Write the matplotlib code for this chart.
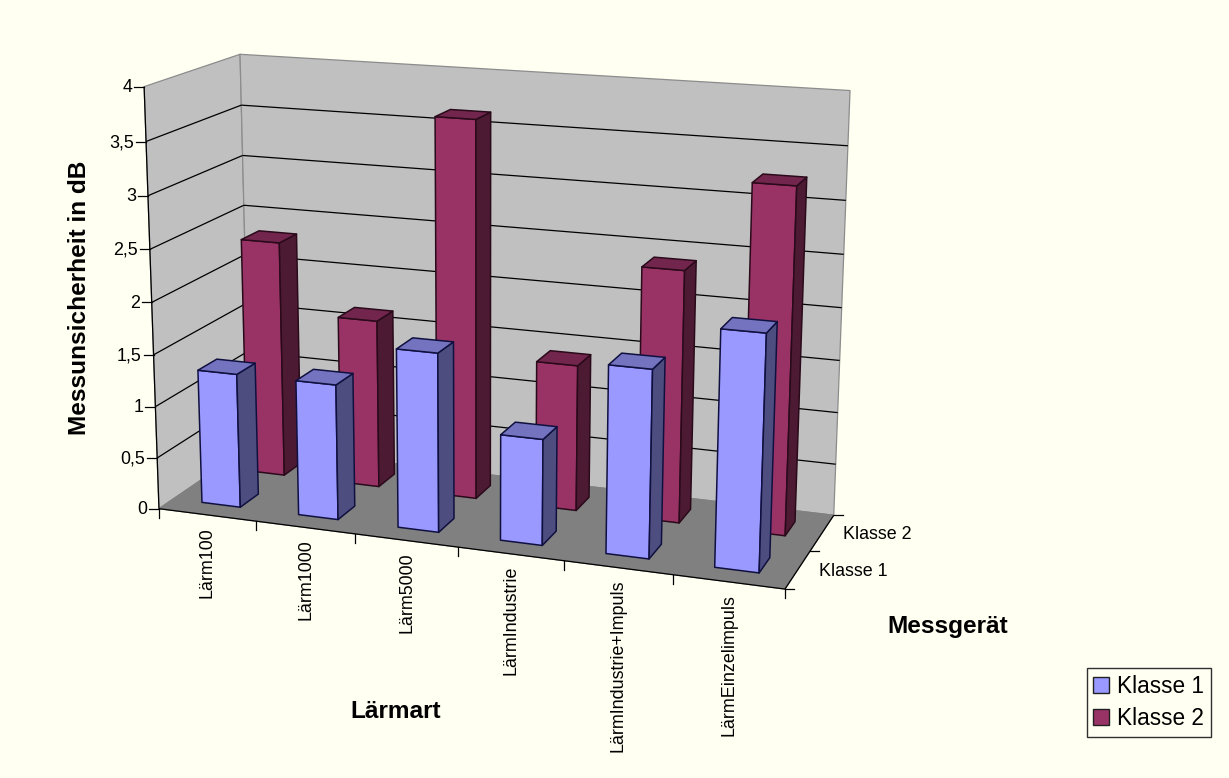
# -*- coding: utf-8 -*-
import numpy as np
import matplotlib
matplotlib.use("Agg")
import matplotlib.pyplot as plt
from matplotlib.patches import Polygon, Patch

categories = ["Lärm100", "Lärm1000", "Lärm5000", "LärmIndustrie", "LärmIndustrie+Impuls", "LärmEinzelimpuls"]
series_names = ["Klasse 1", "Klasse 2"]
klasse1 = [1.3, 1.3, 1.7, 1.0, 1.75, 2.17]
klasse2 = [2.33, 1.65, 3.65, 1.41, 2.4, 3.25]
z_ticks = [0, 0.5, 1, 1.5, 2, 2.5, 3, 3.5, 4]
z_labels = ["0", "0,5", "1", "1,5", "2", "2,5", "3", "3,5", "4"]

BG = "#FFFFF2"
WALL = "#C0C0C0"
FLOOR = "#808080"
COLORS = [("#9999FF", "#7373BF", "#4D4D80"), ("#993366", "#73264D", "#4D1A33")]
EDGES = ["#101040", "#2A0A1A"]
TICK_SIZE = 12.9
TITLE_SIZE = 17.6

plt.rcParams["font.family"] = ["Liberation Sans", "DejaVu Sans"]

# camera: (category, series depth, value) -> pixel, fitted on the box corners
anchors = [
    ((0, 0, 0), (160, 508)), ((0, 0, 4), (143, 87)), ((0, 0, 2), (152, 302)),
    ((0, 2, 4), (241, 54)), ((0, 2, 0), (249, 448)), ((0, 2, 2), (245, 254)),
    ((6, 2, 4), (850, 91)), ((6, 2, 0), (833, 514)), ((6, 0, 0), (785, 589)),
    ((1, 0, 0), (256, 521)), ((2, 0, 0), (355, 534)), ((3, 0, 0), (458, 547)),
    ((4, 0, 0), (563, 561)), ((5, 0, 0), (672, 575)), ((6, 1, 0), (812, 551)),
]


def fit_camera(pairs):
    rows = []
    for (x, y, z), (u, v) in pairs:
        rows.append([x, y, z, 1, 0, 0, 0, 0, -u * x, -u * y, -u * z, -u])
        rows.append([0, 0, 0, 0, x, y, z, 1, -v * x, -v * y, -v * z, -v])
    return np.linalg.svd(np.array(rows, dtype=float))[2][-1].reshape(3, 4)


P = fit_camera(anchors)


def proj(x, y, z):
    h = P @ np.array([x, y, z, 1.0])
    return h[0] / h[2], h[1] / h[2]


def face(ax, pts, color, edge=None, lw=0.9, zorder=3):
    ax.add_patch(Polygon([proj(*p) for p in pts], closed=True, facecolor=color,
                         edgecolor=edge if edge else color, linewidth=lw,
                         joinstyle="round", zorder=zorder))


def line3(ax, a, b, color="black", lw=0.9, zorder=1):
    pa, pb = proj(*a), proj(*b)
    ax.plot([pa[0], pb[0]], [pa[1], pb[1]], color=color, lw=lw, solid_capstyle="butt", zorder=zorder)


def bar(ax, i, j, value):
    x0, x1 = i + 0.3, i + 0.7
    y0, y1 = j + 0.3, j + 0.7
    front, top, side = COLORS[j]
    e = EDGES[j]
    face(ax, [(x0, y0, 0), (x1, y0, 0), (x1, y0, value), (x0, y0, value)], front, e, lw=1.1)
    face(ax, [(x1, y0, 0), (x1, y1, 0), (x1, y1, value), (x1, y0, value)], side, e, lw=1.1)
    face(ax, [(x0, y0, value), (x1, y0, value), (x1, y1, value), (x0, y1, value)], top, e, lw=1.1)


def main():
    fig = plt.figure(figsize=(12.29, 7.78), dpi=100, facecolor=BG)
    ax = fig.add_axes([0, 0, 1, 1])
    ax.set_xlim(0, 1229)
    ax.set_ylim(778, 0)
    ax.axis("off")

    nx = len(categories)
    ny = len(series_names)
    zmax = z_ticks[-1]

    # walls and floor
    face(ax, [(0, 0, 0), (0, ny, 0), (0, ny, zmax), (0, 0, zmax)], WALL, "#8C8C8C", zorder=0)
    face(ax, [(0, ny, 0), (nx, ny, 0), (nx, ny, zmax), (0, ny, zmax)], WALL, "#8C8C8C", zorder=0)
    for z in z_ticks[1:-1]:
        line3(ax, (0, 0, z), (0, ny, z))
        line3(ax, (0, ny, z), (nx, ny, z))
    face(ax, [(0, 0, 0), (nx, 0, 0), (nx, ny, 0), (0, ny, 0)], FLOOR, zorder=1.5)

    # axes
    line3(ax, (0, 0, 0), (0, 0, zmax), zorder=2)
    line3(ax, (0, 0, 0), (nx, 0, 0), zorder=2)
    line3(ax, (nx, 0, 0), (nx, ny, 0), zorder=2)
    for z, lab in zip(z_ticks, z_labels):
        px, py = proj(0, 0, z)
        ax.plot([px - 10, px], [py, py], color="black", lw=0.9, zorder=2)
        ax.text(px - 12, py + 1, lab, ha="right", va="center", fontsize=TICK_SIZE, color="black")
    for i in range(nx + 1):
        px, py = proj(i, 0, 0)
        ax.plot([px, px], [py, py + 9], color="black", lw=0.9, zorder=2)
    for i, name in enumerate(categories):
        px, py = proj(i + 0.5, 0, 0)
        ax.text(px + 0.5, py + 12, name, rotation=90, ha="center", va="top", fontsize=TICK_SIZE, color="black")
    for j in range(ny + 1):
        px, py = proj(nx, j, 0)
        ax.plot([px, px + 9], [py, py], color="black", lw=0.9, zorder=2)
    for j, name in enumerate(series_names):
        px, py = proj(nx, j + 0.5, 0)
        ax.text(px + 21, py + 2, name, ha="left", va="center", fontsize=TICK_SIZE, color="black")

    # back row first, left to right
    for j, values in reversed(list(enumerate([klasse1, klasse2]))):
        for i, v in enumerate(values):
            bar(ax, i, j, v)

    ax.text(80, 298, "Messunsicherheit in dB", rotation=90, ha="center", va="center",
            fontsize=TITLE_SIZE, fontweight="bold")
    ax.text(396, 711, "Lärmart", ha="center", va="center", fontsize=TITLE_SIZE, fontweight="bold")
    ax.text(948, 626, "Messgerät", ha="center", va="center", fontsize=TITLE_SIZE, fontweight="bold")

    handles = [Patch(facecolor=COLORS[k][0], edgecolor="#202020", linewidth=1.0) for k in range(2)]
    leg = ax.legend(handles, series_names, loc="lower right", bbox_to_anchor=(1211, 737),
                    bbox_transform=ax.transData,
                    fontsize=16.3, fancybox=False, framealpha=1, facecolor=BG, edgecolor="#303030",
                    handlelength=0.7, handleheight=0.7, handletextpad=0.35, labelspacing=0.4,
                    borderpad=0.3, borderaxespad=0)
    leg.get_frame().set_linewidth(1.0)

    fig.savefig("out.png", dpi=100, facecolor=BG)


main()
